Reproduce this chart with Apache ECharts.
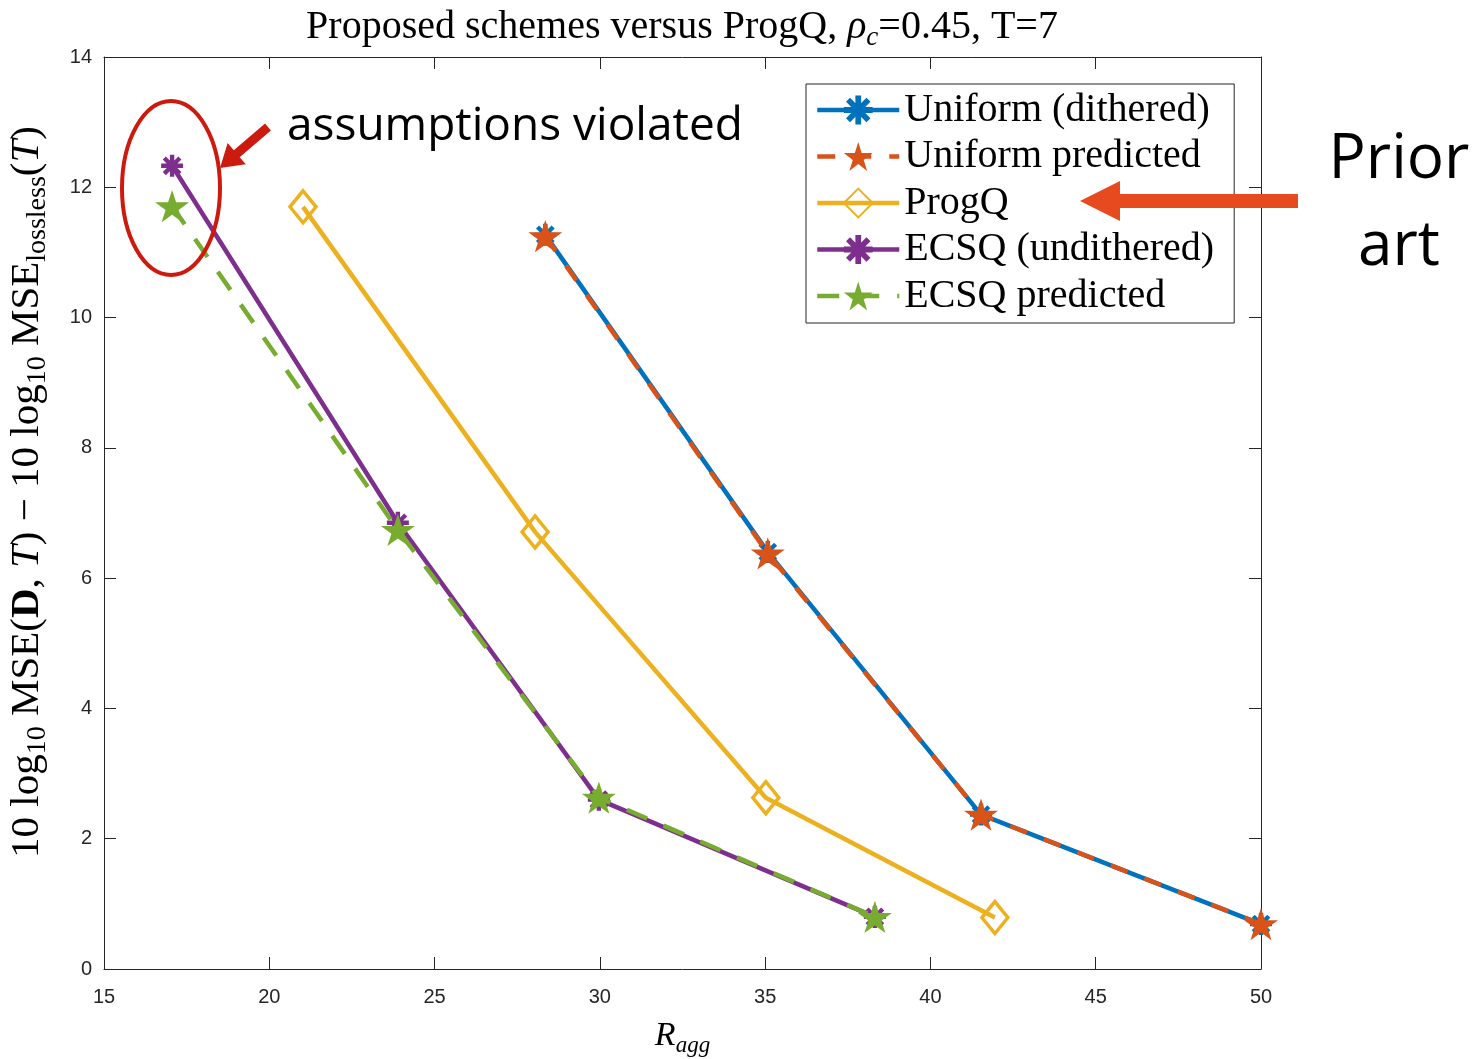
<!DOCTYPE html>
<html>
<head>
<meta charset="utf-8">
<script src="https://cdn.jsdelivr.net/npm/echarts@6/dist/echarts.min.js"></script>
<style>
  html, body { margin: 0; padding: 0; background: #fff; }
  #main { width: 1476px; height: 1059px; }
</style>
</head>
<body>
<div id="main"></div>
<script>
// data
var uniformDithered = [[28.35, 11.27], [35.08, 6.40], [41.53, 2.37], [50.0, 0.69]];
var uniformPredicted = [[28.35, 11.25], [35.08, 6.38], [41.53, 2.37], [50.0, 0.69]];
var progQ = [[21.02, 11.70], [28.04, 6.71], [35.02, 2.63], [41.95, 0.79]];
var ecsqUndithered = [[17.06, 12.33], [23.89, 6.85], [29.97, 2.60], [38.32, 0.80]];
var ecsqPredicted = [[17.06, 11.71], [23.89, 6.74], [29.97, 2.63], [38.32, 0.80]];
var seriesNames = ['Uniform (dithered)', 'Uniform predicted', 'ProgQ', 'ECSQ (undithered)', 'ECSQ predicted'];

var serif = '"Liberation Serif", "DejaVu Serif", serif';
var sans = '"Liberation Sans", Arial, sans-serif';
var note = '"Open Sans", "Noto Sans", sans-serif';

// marker shapes (matlab style)
var asterisk = 'path://M0,8 L20,8 L20,12 L0,12 Z M8,0 L12,0 L12,20 L8,20 Z ' +
  'M4.3,1.5 L18.5,15.7 L15.7,18.5 L1.5,4.3 Z M15.7,1.5 L18.5,4.3 L4.3,18.5 L1.5,15.7 Z';
var star = 'path://M10,0 L12.245,6.91 L19.511,6.91 L13.633,11.18 L15.878,18.09 L10,13.82 ' +
  'L4.122,18.09 L6.367,11.18 L0.489,6.91 L7.755,6.91 Z';

var chart = echarts.init(document.getElementById('main'));

// arrow polygon from tail to tip
function arrowPts(sx, sy, tx, ty, hw, headLen, headHw) {
  var dx = tx - sx, dy = ty - sy;
  var len = Math.sqrt(dx * dx + dy * dy);
  var ux = dx / len, uy = dy / len;
  var nx = -uy, ny = ux;
  var bx = tx - ux * headLen, by = ty - uy * headLen;
  return [
    [sx + nx * hw, sy + ny * hw],
    [bx + nx * hw, by + ny * hw],
    [bx + nx * headHw, by + ny * headHw],
    [tx, ty],
    [bx - nx * headHw, by - ny * headHw],
    [bx - nx * hw, by - ny * hw],
    [sx - nx * hw, sy - ny * hw]
  ];
}

var axisCol = '#262626';
function richSet(size) {
  var sub = Math.round(size * 0.68);
  return {
    a: { fontFamily: serif, fontSize: size, color: '#000', lineHeight: size + 8 },
    i: { fontFamily: serif, fontSize: size, fontStyle: 'italic', color: '#000', lineHeight: size + 8 },
    b: { fontFamily: serif, fontSize: size, fontWeight: 'bold', color: '#000', lineHeight: size + 8 },
    s: { fontFamily: serif, fontSize: sub, color: '#000', lineHeight: sub, verticalAlign: 'bottom' },
    si: { fontFamily: serif, fontSize: sub, fontStyle: 'italic', color: '#000', lineHeight: sub, verticalAlign: 'bottom' }
  };
}

function baseAxis(extra) {
  return Object.assign({
    type: 'value',
    splitLine: { show: false },
    axisLine: { show: true, onZero: false, lineStyle: { color: axisCol, width: 1 } },
    axisTick: { show: true, inside: true, length: 12, lineStyle: { color: axisCol } },
    axisLabel: { color: axisCol, fontFamily: sans, fontSize: 20 }
  }, extra);
}

var LW = 4.5;

var option = {
  animation: false,
  backgroundColor: '#fff',
  grid: { left: 104, top: 57, right: 215, bottom: 90, show: false, outerBoundsMode: 'none', containLabel: false },
  xAxis: [
    baseAxis({
      min: 15, max: 50, interval: 5, position: 'bottom',
      axisLabel: { color: axisCol, fontFamily: sans, fontSize: 20, margin: 18 },
      name: '{i|R}{si|agg}', nameLocation: 'middle', nameGap: 46,
      nameTextStyle: { rich: richSet(34) }
    }),
    baseAxis({ min: 15, max: 50, interval: 5, position: 'top', axisLabel: { show: false } })
  ],
  yAxis: [
    baseAxis({
      min: 0, max: 14, interval: 2, position: 'left',
      axisLabel: { color: axisCol, fontFamily: sans, fontSize: 20, margin: 12 },
      name: '{a|10 log}{s|10}{a| MSE(}{b|D}{a|, }{i|T}{a|) − 10 log}{s|10}{a| MSE}{s|lossless}{a|(}{i|T}{a|)}',
      nameLocation: 'middle', nameRotate: 90, nameGap: 52,
      nameTextStyle: { rich: richSet(41), padding: [0, 0, 0, 42] }
    }),
    baseAxis({ min: 0, max: 14, interval: 2, position: 'right', axisLabel: { show: false } })
  ],
  legend: {
    data: seriesNames,
    orient: 'vertical',
    left: 806, top: 84,
    padding: [6, 20, 7, 9],
    itemWidth: 82, itemHeight: 36, itemGap: 6.5,
    backgroundColor: '#fff',
    borderColor: axisCol, borderWidth: 1,
    lineStyle: { width: LW },
    textStyle: { fontFamily: serif, fontSize: 40, lineHeight: 40, color: '#000' },
    selectedMode: false
  },
  series: [
    {
      name: seriesNames[0], type: 'line', data: uniformDithered,
      symbol: asterisk, symbolSize: 22,
      lineStyle: { color: '#0072BD', width: LW },
      itemStyle: { color: '#0072BD' }, z: 2
    },
    {
      name: seriesNames[1], type: 'line', data: uniformPredicted,
      symbol: star, symbolSize: 34, symbolKeepAspect: true,
      lineStyle: { color: '#D95319', width: LW, type: [18, 18] },
      itemStyle: { color: '#D95319' }, z: 3
    },
    {
      name: seriesNames[2], type: 'line', data: progQ,
      symbol: 'diamond', symbolSize: [26, 32],
      lineStyle: { color: '#EDB120', width: LW },
      itemStyle: { color: 'rgba(255,255,255,0)', borderColor: '#EDB120', borderWidth: 3.5 }, z: 2
    },
    {
      name: seriesNames[3], type: 'line', data: ecsqUndithered,
      symbol: asterisk, symbolSize: 22,
      lineStyle: { color: '#7E2F8E', width: LW },
      itemStyle: { color: '#7E2F8E' }, z: 2
    },
    {
      name: seriesNames[4], type: 'line', data: ecsqPredicted,
      symbol: star, symbolSize: 34, symbolKeepAspect: true,
      lineStyle: { color: '#77AC30', width: LW, type: [22, 18] },
      itemStyle: { color: '#77AC30' }, z: 3
    }
  ],
  graphic: [
    {
      type: 'text', x: 682, y: 27, z: 10,
      style: {
        text: '{a|Proposed schemes versus ProgQ, }{i|ρ}{si|c}{a|=0.45, T=7}',
        align: 'center', verticalAlign: 'middle',
        rich: richSet(40)
      }
    },
    {
      type: 'ellipse', z: 20,
      shape: { cx: 171, cy: 188, rx: 49, ry: 87 },
      style: { fill: 'none', stroke: '#CC1B0E', lineWidth: 4 }
    },
    {
      type: 'polygon', z: 20,
      shape: { points: arrowPts(268, 127, 220, 168, 4.5, 22, 14) },
      style: { fill: '#CC1B0E' }
    },
    {
      type: 'text', x: 287, y: 127, z: 20,
      style: { text: 'assumptions violated', fontFamily: note, fontSize: 46, fill: '#000', verticalAlign: 'middle' }
    },
    {
      type: 'polygon', z: 20,
      shape: { points: arrowPts(1298, 201, 1080, 201, 7, 40, 20) },
      style: { fill: '#E84A1F' }
    },
    {
      type: 'text', x: 1399, y: 160, z: 20,
      style: { text: 'Prior', fontFamily: note, fontSize: 62, fill: '#000', align: 'center', verticalAlign: 'middle' }
    },
    {
      type: 'text', x: 1399, y: 247, z: 20,
      style: { text: 'art', fontFamily: note, fontSize: 62, fill: '#000', align: 'center', verticalAlign: 'middle' }
    }
  ]
};

chart.setOption(option);
</script>
</body>
</html>
